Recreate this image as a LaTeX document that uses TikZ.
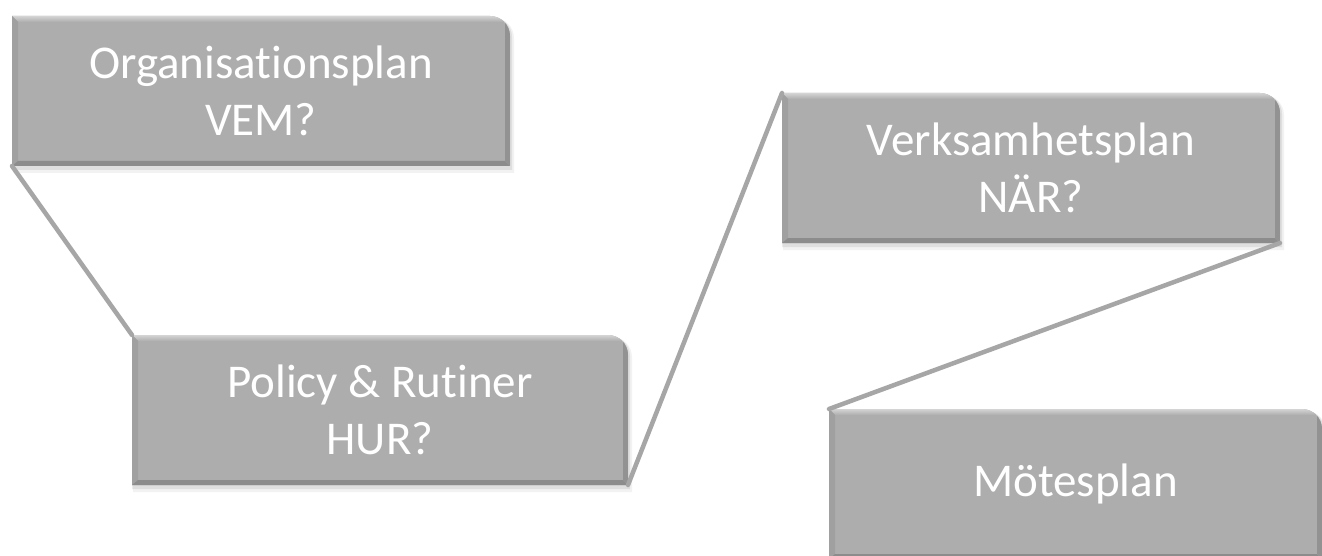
\documentclass[tikz,border=0pt]{standalone}
\usepackage{fontspec}
\setmainfont{Carlito}[Ligatures={NoCommon}]
\usetikzlibrary{backgrounds}
\definecolor{boxfill}{HTML}{ADADAD}
\definecolor{boxlight}{HTML}{D4D4D4}
\definecolor{boxdark}{HTML}{8C8C8C}
\definecolor{boxleft}{HTML}{A0A0A0}
\definecolor{boxright}{HTML}{929292}
\definecolor{conncol}{HTML}{A6A6A6}
\tikzset{
  boxtext/.style={text=white, font=\fontsize{47}{57}\selectfont, align=center,
    inner sep=0pt, outer sep=0pt, shape=rectangle},
  conn/.style={draw=conncol, line width=4.5pt, line cap=round},
  shapepath/.style n args={4}{insert path={(#1,#2) -- ({#3-20},#2)
    .. controls ({#3-9},#2) and (#3,{#2+9}) .. (#3,{#2+20}) -- (#3,#4) -- (#1,#4) -- cycle}},
}
\newcommand\plbox[6]{%
  \node[boxtext, minimum width=#4pt-#2pt, minimum height=#5pt-#3pt] (#1)
    at ({(#2+#4)/2},{(#3+#5)/2}) {#6};
  \begin{scope}[on background layer]
    \fill[black,opacity=.05] [shapepath={#2+1}{#3+2}{#4+4}{#5+7}];
    \fill[black,opacity=.08] [shapepath={#2}{#3+1}{#4+2}{#5+4}];
    \fill[boxfill] [shapepath={#2}{#3}{#4}{#5}];
    \begin{scope}
      \clip[shapepath={#2}{#3}{#4}{#5}];
      \shade[top color=boxlight, bottom color=boxfill]
        (#2,#3) -- (#4,#3) -- (#4-6,#3+6) -- (#2+6,#3+6) -- cycle;
      \fill[boxleft] (#2,#3) -- (#2+6,#3+6) -- (#2+6,#5-5) -- (#2,#5) -- cycle;
      \fill[boxdark] (#2,#5) -- (#2+6,#5-5) -- (#4-5,#5-5) -- (#4,#5) -- cycle;
      \fill[boxright] (#4,#3) -- (#4-5,#3+6) -- (#4-5,#5-5) -- (#4,#5) -- cycle;
    \end{scope}
  \end{scope}
}
\begin{document}
\begin{tikzpicture}[x=1pt,y=-1pt]
  \begin{scope}[on background layer]
    \fill[white] (0,0) rectangle (1322,556);
  \end{scope}
  \useasboundingbox (0,0) rectangle (1322,556);
  \plbox{org}{12}{16}{510}{166}{Organisationsplan\\VEM?}
  \plbox{pol}{132}{335}{628}{485}{Policy \& Rutiner\\HUR?}
  \plbox{verk}{782}{93}{1280}{243}{Verksamhetsplan\\NÄR?}
  \plbox{mote}{829}{409}{1322}{559}{Mötesplan}
  \begin{scope}[on background layer]
    \draw[conn] (org.south west) -- (pol.north west);
    \draw[conn] (pol.south east) -- (verk.north west);
    \draw[conn] (verk.south east) -- (mote.north west);
  \end{scope}
\end{tikzpicture}
\end{document}
